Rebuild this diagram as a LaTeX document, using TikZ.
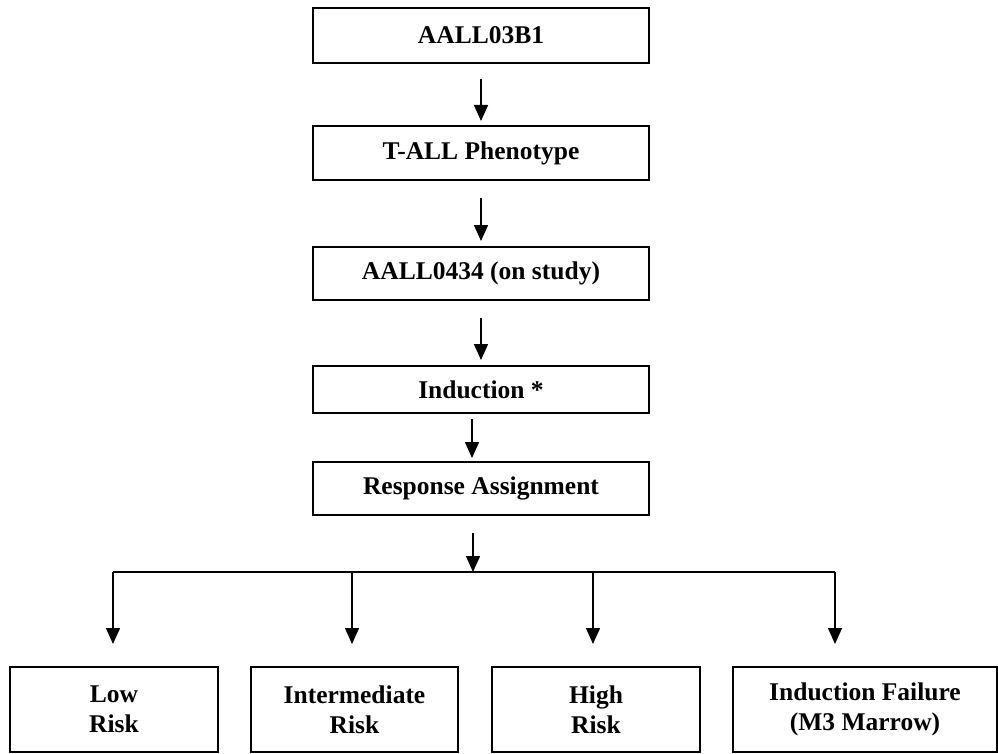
\documentclass[tikz,border=0pt]{standalone}
\usepackage{fontspec}
\setmainfont{Liberation Serif}
\usetikzlibrary{arrows.meta}
\begin{document}
\begin{tikzpicture}[x=1pt,y=-1pt,
  box/.style={draw,line width=1.6pt,inner sep=0pt,align=center,font=\fontsize{25.5}{30}\selectfont\bfseries},
  arr/.style={line width=1.5pt,-{Triangle[width=14pt,length=16pt]}},
  ln/.style={line width=1.5pt}]
\useasboundingbox (0,0) rectangle (998,754);
\node[box,minimum width=336pt,minimum height=55pt] (b1) at (481,35.5) {AALL03B1};
\node[box,minimum width=336pt,minimum height=54pt] (b2) at (481,153) {T-ALL Phenotype};
\node[box,minimum width=336pt,minimum height=53pt] (b3) at (481,273.5) {AALL0434 (on study)};
\node[box,minimum width=336pt,minimum height=47pt] (b4) at (481,389.5) {Induction *};
\node[box,minimum width=336pt,minimum height=53pt] (b5) at (481,488.5) {Response Assignment};
\node[box,minimum width=208pt,minimum height=85pt] (l1) at (114,709.5) {Low\\Risk};
\node[box,minimum width=207pt,minimum height=85pt] (l2) at (354.5,709.5) {Intermediate\\Risk};
\node[box,minimum width=208pt,minimum height=85pt] (l3) at (596,709.5) {High\\Risk};
\node[box,minimum width=264pt,minimum height=85pt] (l4) at (865,709.5) {Induction Failure\\(M3 Marrow)};
\coordinate (a1s) at (481,79);  \coordinate (a1e) at (481,121);
\coordinate (a2s) at (481,198); \coordinate (a2e) at (481,241);
\coordinate (a3s) at (481,318); \coordinate (a3e) at (481,360);
\coordinate (a4s) at (472,419); \coordinate (a4e) at (472,458);
\coordinate (a5s) at (473,533); \coordinate (a5e) at (473,572);
\coordinate (hl) at (113,572); \coordinate (hr) at (835,572);
\coordinate (t1) at (113,572); \coordinate (e1) at (113,644);
\coordinate (t2) at (352,572); \coordinate (e2) at (352,644);
\coordinate (t3) at (593,572); \coordinate (e3) at (593,644);
\coordinate (t4) at (835,572); \coordinate (e4) at (835,644);
\draw[arr] (a1s) -- (a1e);
\draw[arr] (a2s) -- (a2e);
\draw[arr] (a3s) -- (a3e);
\draw[arr] (a4s) -- (a4e);
\draw[arr] (a5s) -- (a5e);
\draw[ln] (hl) -- (hr);
\draw[arr] (t1) -- (e1);
\draw[arr] (t2) -- (e2);
\draw[arr] (t3) -- (e3);
\draw[arr] (t4) -- (e4);
\end{tikzpicture}
\end{document}
